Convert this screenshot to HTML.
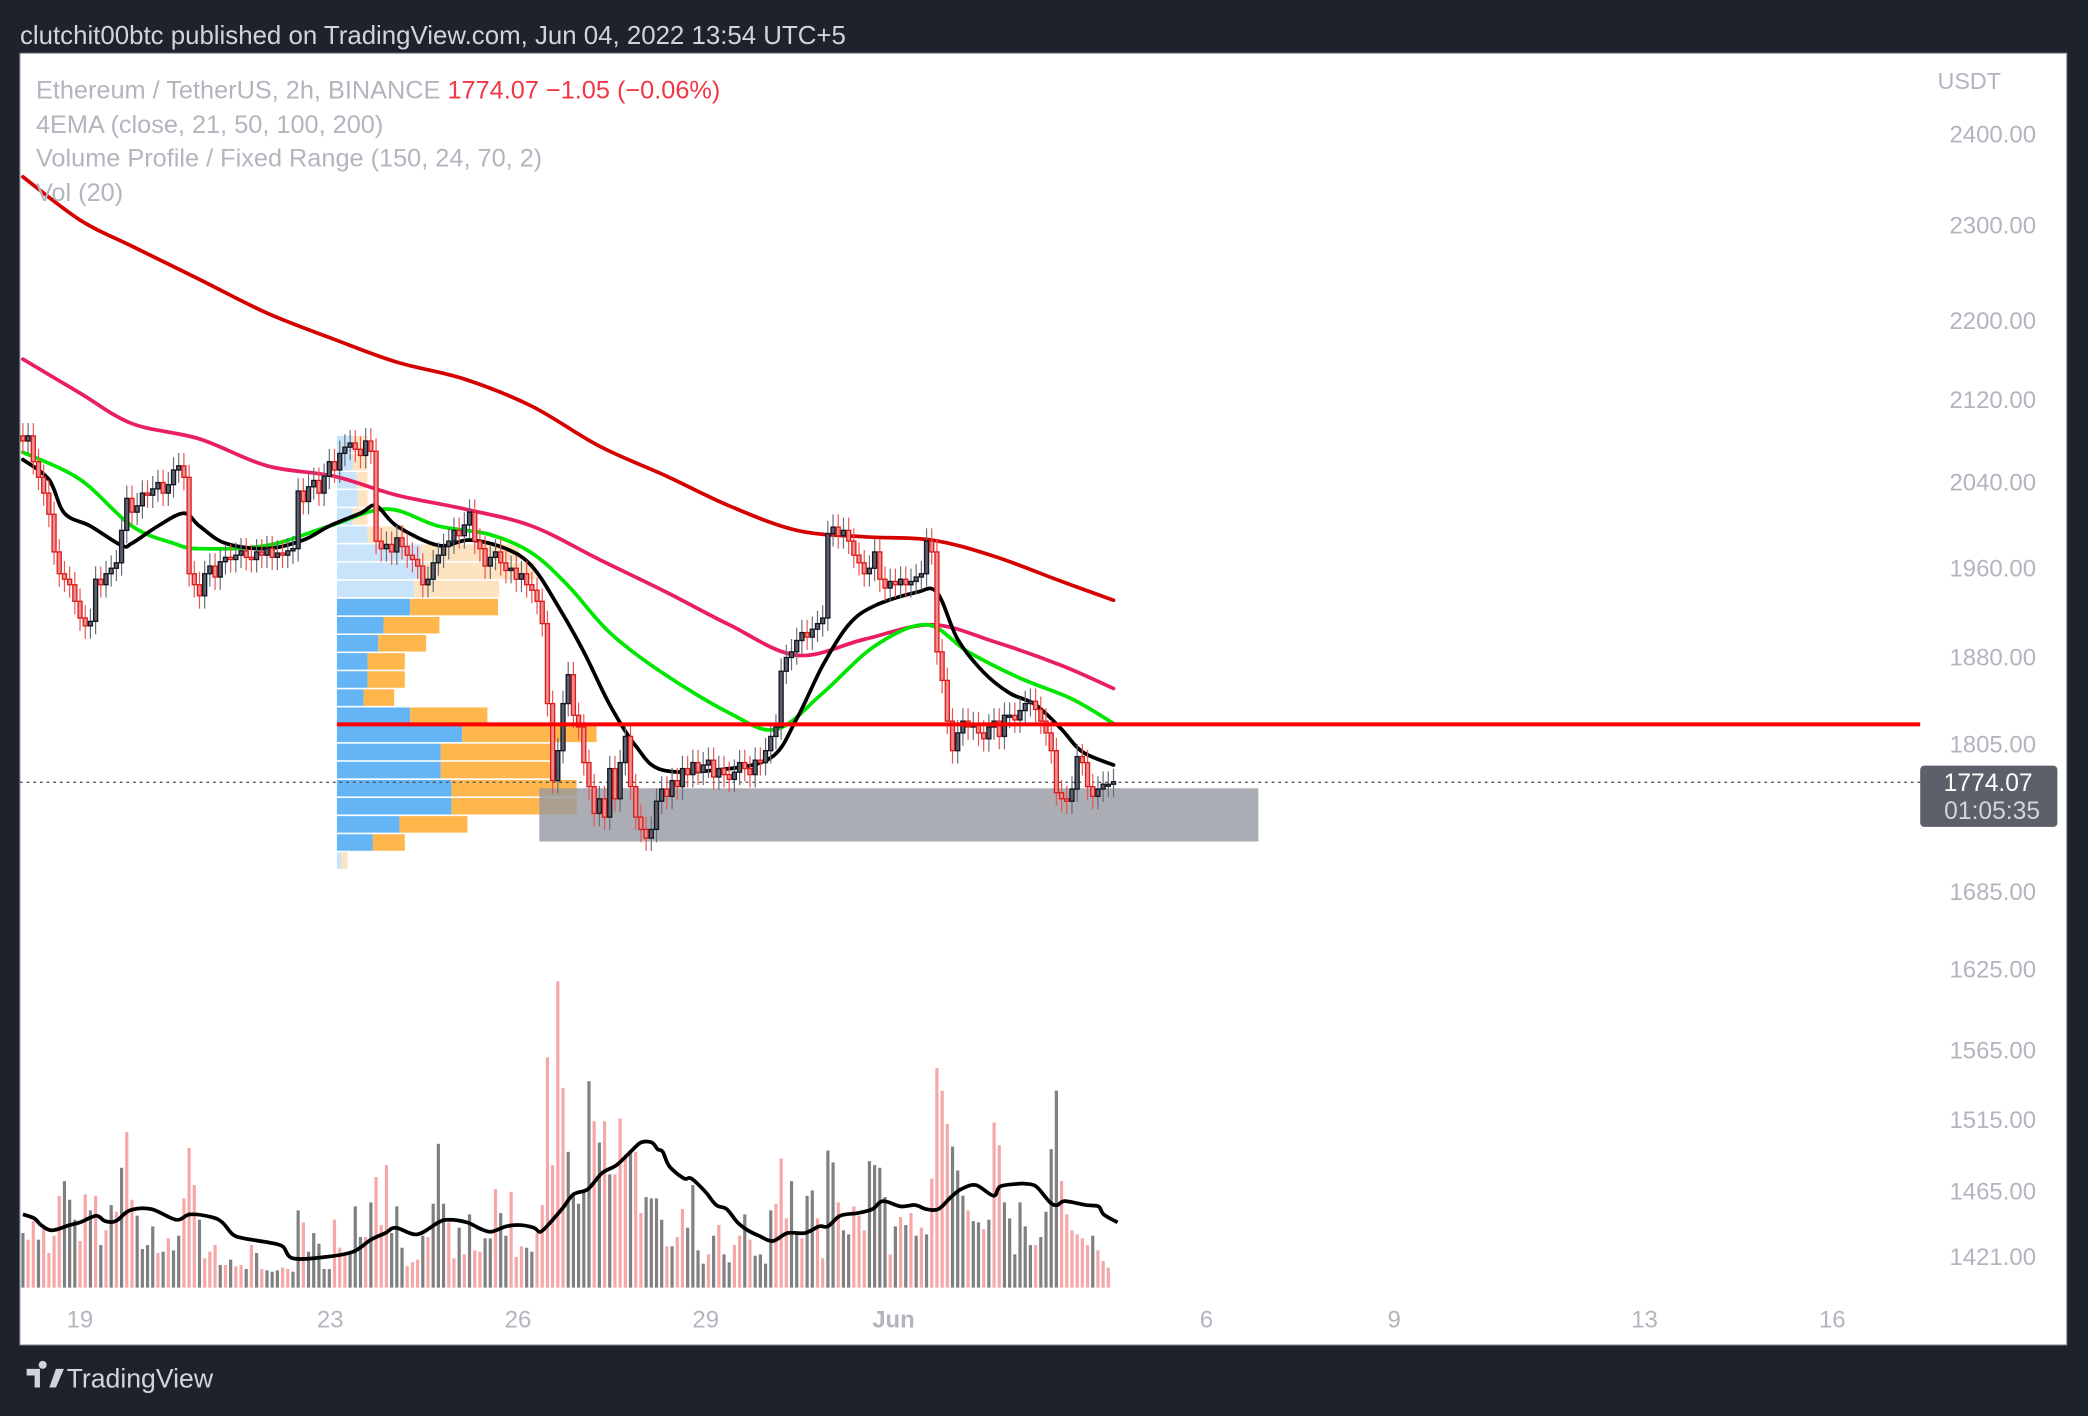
<!DOCTYPE html>
<html><head><meta charset="utf-8"><style>
html,body{margin:0;padding:0;background:#1e222d;}
svg{display:block;font-family:"Liberation Sans",sans-serif;}
</style></head><body>
<svg id="chart" width="2088" height="1416" viewBox="0 0 1568 1063.4" preserveAspectRatio="none" xmlns="http://www.w3.org/2000/svg">
<rect x="0" y="0" width="1568" height="1064" fill="#1e222d"/>
<text x="15" y="33" font-size="19.4" fill="#d1d4dc">clutchit00btc published on TradingView.com, Jun 04, 2022 13:54 UTC+5</text>
<rect x="15" y="40" width="1537" height="970" fill="#ffffff" stroke="#9598a1" stroke-width="0.8"/>
<g id="vp"></g>
<rect x="405" y="592" width="540" height="40" fill="#9598a1" fill-opacity="0.8"/>
<line x1="15" y1="587.5" x2="1442" y2="587.5" stroke="#50535e" stroke-width="1" stroke-dasharray="2,3"/>
<g id="vol"></g>
<g id="emas"></g>
<g id="candles"></g>
<line x1="253" y1="544" x2="1442" y2="544" stroke="#ff0000" stroke-width="3"/>
<g id="yaxis"></g>
<g id="xaxis"></g>
<text x="1455" y="67" font-size="17.5" fill="#b2b5be">USDT</text>
<rect x="1442" y="575" width="103" height="46" rx="3" fill="#5d606b"/>
<text x="1493" y="594" font-size="18.5" fill="#ffffff" text-anchor="middle">1774.07</text>
<text x="1496" y="615" font-size="18.5" fill="#d1d4dc" text-anchor="middle">01:05:35</text>
<g font-size="19" fill="#b2b5be">
<text x="27" y="74">Ethereum / TetherUS, 2h, BINANCE  <tspan fill="#f23645">1774.07  −1.05 (−0.06%)</tspan></text>
<text x="27" y="100">4EMA (close, 21, 50, 100, 200)</text>
<text x="27" y="125">Volume Profile / Fixed Range (150, 24, 70, 2)</text>
<text x="27" y="151">Vol (20)</text>
</g>
<g>
<path d="M20 1028 h10 v14 h-4 v-9 h-6z M32 1028 a3 3 0 1 1 0.1 0z M37 1042 l5 -14 h6 l-6 14z" fill="#d1d4dc"/>
<text x="50" y="1042" font-size="20" fill="#d1d4dc">TradingView</text>
</g>
</svg>
<script>
const closes=[2080,2085,2060,2045,2030,2010,1975,1955,1950,1945,
1930,1915,1908,1912,1950,1945,1955,1960,1965,1995,
2025,2012,2018,2030,2028,2034,2040,2030,2038,2052,
2056,2045,1955,1945,1935,1955,1962,1952,1966,1970,
1968,1972,1976,1970,1968,1975,1972,1978,1970,1974,
1972,1976,1978,2032,2022,2036,2042,2030,2046,2060,
2052,2068,2074,2078,2072,2066,2080,2070,1985,1978,
1982,1975,1988,1980,1972,1968,1962,1945,1950,1965,
1972,1980,1985,1995,1990,2000,2012,1985,1978,1962,
1970,1975,1965,1958,1960,1950,1955,1945,1940,1930,
1910,1840,1775,1800,1840,1865,1830,1820,1790,1770,
1748,1760,1745,1785,1760,1790,1812,1770,1745,1735,
1728,1735,1758,1768,1762,1775,1770,1785,1780,1790,
1782,1788,1792,1778,1785,1780,1776,1782,1790,1785,
1780,1792,1790,1800,1812,1820,1868,1880,1885,1895,
1902,1898,1905,1910,1915,1992,1998,1990,1995,1985,
1972,1965,1955,1960,1975,1950,1942,1948,1945,1950,
1945,1948,1952,1955,1985,1975,1885,1860,1825,1800,
1815,1825,1820,1822,1815,1810,1820,1825,1812,1830,
1830,1826,1834,1840,1842,1835,1825,1815,1800,1765,
1760,1758,1768,1795,1790,1770,1762,1768,1772,1772,1774.07];
const volumes=[41,36,50,36,45,26,39,69,80,66,51,35,70,58,69,32,43,62,57,90,
117,66,54,29,32,46,26,27,37,28,39,67,105,77,51,22,27,32,17,17,
21,16,17,14,32,26,14,13,12,13,15,14,12,58,49,27,41,33,14,14,
51,30,24,27,61,38,38,64,83,47,92,41,61,30,16,19,21,39,38,63,
108,63,49,22,45,25,55,28,27,37,37,74,56,39,72,23,31,30,27,41,
62,173,92,230,150,102,69,63,73,155,125,109,125,85,85,127,100,103,102,56,
68,67,67,51,31,31,38,59,45,77,28,18,25,39,47,25,19,32,39,55,
36,24,25,18,58,63,97,52,80,41,37,69,73,52,22,103,94,64,43,40,
61,54,43,95,92,90,68,25,46,53,47,56,39,45,40,82,165,148,123,106,
88,69,58,50,49,44,51,124,107,64,52,25,64,46,32,32,38,57,104,148,
80,55,43,40,37,32,39,28,20,15];
const volDir="gppgppppgggppgpgpgpgppggggpgpggpppgpppgpgppgpgpgggppggpgggggpppgggpgpppgggpppgpgggppgpgppggpggpppggppppppgggggpgpgpppgppggggpgppggggpgpggppgpggggpppggpggppggpggpppggggpgpgpgpgppppgggpggpgppggggggpggggppppppgppppppgggg";
const ema21Idx=[0,5,8,13,19,21,26,31,34,39,47,54,59,65,68,72,80,86,93,98,103,108,113,118,123,134,144,149,154,159,164,172,176,180,185,190,195,200,204,210];
const ema21Val=[2062,2043,2011,1999,1981,1983,1999,2011,1999,1983,1978,1986,1999,2011,2018,1999,1981,1986,1978,1962,1926,1885,1839,1804,1784,1784,1794,1827,1873,1909,1926,1938,1938,1896,1867,1849,1839,1818,1799,1788];
const ema50Idx=[0,11,21,29,34,47,59,70,80,90,98,105,113,123,136,145,154,164,174,182,192,202,210];
const ema50Val=[2069,2043,1999,1983,1978,1981,1999,2015,1999,1991,1974,1944,1902,1867,1832,1818,1849,1890,1909,1885,1862,1844,1823];
const ema100Idx=[0,11,21,34,47,60,72,85,98,111,124,136,149,162,175,187,200,210];
const ema100Val=[2161,2127,2097,2082,2056,2046,2028,2015,1999,1968,1938,1909,1882,1896,1909,1894,1873,1853];
const ema200Idx=[0,11,21,34,47,60,72,85,98,111,124,136,149,162,175,187,200,210];
const ema200Val=[2353,2306,2278,2243,2208,2181,2158,2141,2114,2075,2046,2018,1995,1989,1986,1971,1948,1931];
const volMaIdx=[0,2.2,3.5,5.6,9,11,14.1,15.8,17.9,20.6,24.7,29.5,32.2,36.3,38.4,40.4,42.5,47.2,50,52,58.2,63.6,67,69.8,71.8,75.9,80,82,85.5,88.2,90.2,93,95.7,98.4,99.7,101.8,104,106,108.8,111.5,114.3,117,119,121.1,122.2,123.2,124.5,127.3,128.7,131.4,133.5,135.5,137.6,139.6,141.7,144.4,147.2,150.6,153.3,155,157.4,160.8,163.6,165.6,169,171.8,173.9,176.3,178.7,180.7,183.5,186.9,188.2,191.7,193,195.1,197.8,199.2,200.6,204.7,207.1,208.1,210.8];
const volMaVal=[55,52,47,43,47,49,54,50,50,58,59,51,55,53,49,40,37,34,31,22,23,27,36,41,45,40,49,51,49,44,42,46,47,45,42,50,60,70,74,86,92,102,109,109,104,102,91,82,82,72,62,59,49,43,39,35,41,41,46,46,54,56,59,65,61,62,59,59,68,74,77,69,76,78,78,76,64,62,65,62,61,55,49];
const vpUp=[12,12,15,16,12,23,63,66,58,55,35,31,23,23,20,55,94,78,78,86,86,47,27,3.5];
const vpDown=[11,11,8,7,11,28,74,83,64,66,42,36,28,28,23,58,101,83,86,94,94,51,24,4.5];
const vpLight=[1,1,1,1,1,1,1,1,1,0,0,0,0,0,0,0,0,0,0,0,0,0,0,1];
const priceTicks=[2400,2300,2200,2120,2040,1960,1880,1805,1685,1625,1565,1515,1465,1421];
const dateLabels=["19","23","26","29","Jun","6","9","13","16"];
const dateDays=[1,5,8,11,14,19,22,26,29];

const NS="http://www.w3.org/2000/svg";
const X=i=>17.2+i*3.9;
const Y=p=>101+1608.5*Math.log(2400/p);
const dayX=d=>60+(d-1)*47;
function mk(tag,attrs,parent){const e=document.createElementNS(NS,tag);for(const k in attrs)e.setAttribute(k,attrs[k]);parent.appendChild(e);return e;}
function smooth(pts){let d='M'+pts[0][0]+','+pts[0][1];
for(let i=0;i<pts.length-1;i++){const p0=pts[Math.max(0,i-1)],p1=pts[i],p2=pts[i+1],p3=pts[Math.min(pts.length-1,i+2)];
const c1x=p1[0]+(p2[0]-p0[0])/6,c1y=p1[1]+(p2[1]-p0[1])/6,c2x=p2[0]-(p3[0]-p1[0])/6,c2y=p2[1]-(p3[1]-p1[1])/6;
d+=' C'+c1x+','+c1y+' '+c2x+','+c2y+' '+p2[0]+','+p2[1];}return d;}

const ya=document.getElementById('yaxis');
priceTicks.forEach(p=>{const t=mk('text',{x:1529,y:Y(p)+6,'font-size':18,fill:'#b2b5be','text-anchor':'end'},ya);


t.textContent=p.toFixed(2);});
const xa=document.getElementById('xaxis');
dateLabels.forEach((l,k)=>{const t=mk('text',{x:dayX(dateDays[k]),y:997,'font-size':18,fill:'#b2b5be','text-anchor':'middle','font-weight':l==='Jun'?'bold':'normal'},xa);


t.textContent=l;});

const vp=document.getElementById('vp');
const rowTop=326.7,rowH=13.6;
vpUp.forEach((u,r)=>{const y=rowTop+r*rowH+0.6,h=rowH-1.2;const lt=vpLight[r];
const b=mk('rect',{x:253,y:y,width:u,height:h,fill:lt?'#c9e3fb':'#64b5f6'},vp);


const o=mk('rect',{x:253+u,y:y,width:vpDown[r],height:h,fill:lt?'#fde3bf':'#ffb74d'},vp);

});

const vg=document.getElementById('vol');
volumes.forEach((v,i)=>{const r=mk('rect',{x:X(i)-1.2,y:967-v,width:2.4,height:v,fill:volDir[i]==='g'?'#808080':'#f7a7a7'},vg);

});
const vm=mk('path',{d:smooth(volMaIdx.map((i,k)=>[X(i),967-volMaVal[k]])),fill:'none',stroke:'#000',"stroke-width":2.8,"stroke-linejoin":'round'},vg);



const eg=document.getElementById('emas');
[[ema200Idx,ema200Val,'#d50000','ema-200-line'],[ema100Idx,ema100Val,'#e91e63','ema-100-line'],[ema50Idx,ema50Val,'#00e600','ema-50-line'],[ema21Idx,ema21Val,'#000000','ema-21-line']].forEach(s=>{
const l=mk('path',{d:smooth(s[0].map((i,k)=>[X(i),Y(s[1][k])])),fill:'none',stroke:s[2],'stroke-width':2.8,'stroke-linejoin':'round','stroke-linecap':'round'},eg);

});

const cg=document.getElementById('candles');
closes.forEach((c,i)=>{const o=i?closes[i-1]:c+5;const up=c>=o;
const hi=Math.max(o,c)*1.006,lo=Math.min(o,c)*0.994;const x=X(i);
const col=up?'#131722':'#d91e1e';
const w=mk('line',{x1:x,y1:Y(hi),x2:x,y2:Y(lo),stroke:up?'#6a6d78':'#ef5350','stroke-width':0.9},cg);


const yt=Y(Math.max(o,c)),yb=Y(Math.min(o,c));
const b=mk('rect',{x:x-1.5,y:yt,width:3,height:Math.max(1.5,yb-yt),fill:up?'#5d606b':'#f28b8b',stroke:col,'stroke-width':1},cg);

});
</script>
</body></html>
